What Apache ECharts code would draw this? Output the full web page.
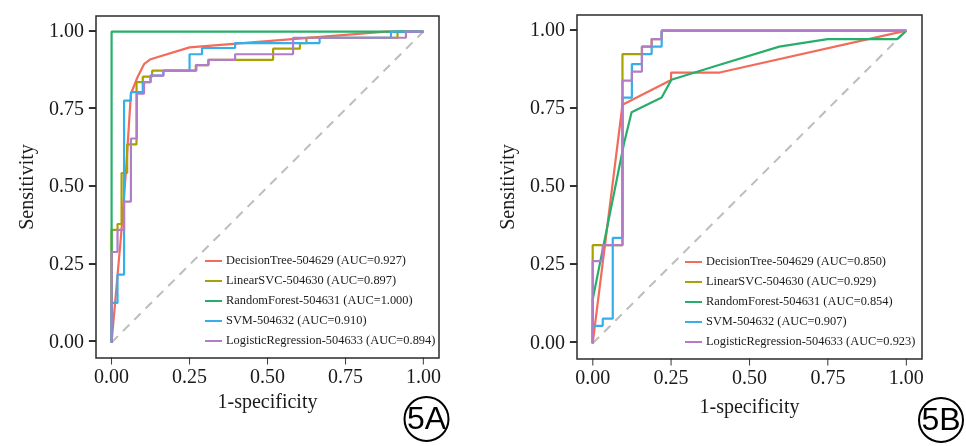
<!DOCTYPE html>
<html>
<head>
<meta charset="utf-8">
<script src="https://cdn.jsdelivr.net/npm/echarts@6/dist/echarts.min.js"></script>
<style>
  html, body { margin: 0; padding: 0; background: #fff; }
  #chart { width: 966px; height: 446px; }
</style>
</head>
<body>
<div id="chart"></div>
<script>
// tick labels shared by both panels
const ticks = [0, 0.25, 0.5, 0.75, 1];

// 5A
const namesA = [
  'DecisionTree-504629 (AUC=0.927)',
  'LinearSVC-504630 (AUC=0.897)',
  'RandomForest-504631 (AUC=1.000)',
  'SVM-504632 (AUC=0.910)',
  'LogisticRegression-504633 (AUC=0.894)'
];
const treeA = [[0, 0], [0.03, 0.34], [0.046, 0.55], [0.062, 0.8], [0.083, 0.853], [0.104, 0.895],
  [0.125, 0.911], [0.25, 0.949], [0.57, 0.975], [0.88, 1], [1, 1]];
const svcA = [[0, 0], [0, 0.362], [0.019, 0.362], [0.019, 0.381], [0.032, 0.381], [0.032, 0.545],
  [0.05, 0.545], [0.05, 0.637], [0.08, 0.637], [0.08, 0.837], [0.1, 0.837], [0.1, 0.855],
  [0.13, 0.855], [0.13, 0.874], [0.27, 0.874], [0.27, 0.892], [0.31, 0.892], [0.31, 0.909],
  [0.518, 0.909], [0.518, 0.945], [0.604, 0.945], [0.604, 0.963], [0.625, 0.963], [0.625, 0.98],
  [0.917, 0.98], [0.917, 1], [1, 1]];
const forestA = [[0, 0], [0, 1], [1, 1]];
const svmA = [[0, 0], [0, 0.127], [0.019, 0.127], [0.019, 0.218], [0.04, 0.218], [0.04, 0.778],
  [0.062, 0.778], [0.062, 0.805], [0.1, 0.805], [0.1, 0.837], [0.125, 0.837], [0.125, 0.858],
  [0.166, 0.858], [0.166, 0.874], [0.25, 0.874], [0.25, 0.927], [0.29, 0.927], [0.29, 0.947],
  [0.396, 0.947], [0.396, 0.963], [0.667, 0.963], [0.667, 0.98], [0.896, 0.98], [0.896, 1], [1, 1]];
const logitA = [[0, 0], [0, 0.291], [0.019, 0.291], [0.019, 0.362], [0.04, 0.362], [0.04, 0.453],
  [0.062, 0.453], [0.062, 0.656], [0.081, 0.656], [0.081, 0.8], [0.104, 0.8], [0.104, 0.837],
  [0.125, 0.837], [0.125, 0.858], [0.166, 0.858], [0.166, 0.874], [0.272, 0.874], [0.272, 0.892],
  [0.311, 0.892], [0.311, 0.909], [0.396, 0.909], [0.396, 0.927], [0.582, 0.927], [0.582, 0.98],
  [0.944, 0.98], [0.944, 1], [1, 1]];

// 5B
const namesB = [
  'DecisionTree-504629 (AUC=0.850)',
  'LinearSVC-504630 (AUC=0.929)',
  'RandomForest-504631 (AUC=0.854)',
  'SVM-504632 (AUC=0.907)',
  'LogisticRegression-504633 (AUC=0.923)'
];
const treeB = [[0, 0], [0.095, 0.763], [0.25, 0.842], [0.25, 0.866], [0.405, 0.866], [1, 1]];
const svcB = [[0, 0], [0, 0.314], [0.032, 0.314], [0.095, 0.314], [0.095, 0.925], [0.157, 0.925],
  [0.157, 0.949], [0.188, 0.949], [0.188, 0.973], [0.22, 0.973], [0.22, 1], [1, 1]];
const forestB = [[0, 0], [0, 0.14], [0.1, 0.64], [0.124, 0.739], [0.22, 0.786], [0.251, 0.843],
  [0.405, 0.891], [0.595, 0.949], [0.749, 0.973], [0.971, 0.973], [1, 1]];
const svmB = [[0, 0], [0, 0.056], [0.032, 0.056], [0.032, 0.079], [0.064, 0.079], [0.064, 0.337],
  [0.095, 0.337], [0.095, 0.786], [0.125, 0.786], [0.125, 0.893], [0.157, 0.893], [0.157, 0.925],
  [0.188, 0.925], [0.188, 0.949], [0.22, 0.949], [0.22, 1], [1, 1]];
const logitB = [[0, 0], [0, 0.263], [0.032, 0.263], [0.032, 0.314], [0.095, 0.314], [0.095, 0.84],
  [0.125, 0.84], [0.125, 0.869], [0.157, 0.869], [0.157, 0.949], [0.188, 0.949], [0.188, 0.973],
  [0.22, 0.973], [0.22, 1], [1, 1]];

const diagonal = [[0, 0], [1, 1]];
const colors = ['#F26B5B', '#A8A200', '#27AE6A', '#35AEEB', '#B47CC7'];

const serif = 'Liberation Serif, Times New Roman, serif';
const mono = 'DejaVu Sans Mono, monospace';
const axisMin = -0.05;
const myChart = echarts.init(document.getElementById('chart'));

// the outward tick marks ride on the labels as box-drawing glyphs
function xAxis(idx) {
  return {
    type: 'value',
    gridIndex: idx,
    min: axisMin,
    max: 1.05,
    name: '1-specificity',
    nameLocation: 'middle',
    nameGap: idx === 0 ? 32 : 39,
    nameTextStyle: { fontFamily: serif, fontSize: 20, color: '#1a1a1a' },
    axisLine: { show: false, onZero: false },
    axisTick: { show: false },
    axisLabel: {
      customValues: ticks, margin: 0,
      formatter: v => '{t|\u2503}\n{v|' + v.toFixed(2) + '}',
      rich: {
        t: { fontFamily: mono, fontSize: 6, lineHeight: 7, color: '#2b2b2b', align: 'center' },
        v: { fontFamily: serif, fontSize: 20, lineHeight: 26, color: '#1a1a1a', align: 'center' }
      }
    },
    splitLine: { show: false }
  };
}
function yAxis(idx) {
  return {
    type: 'value',
    gridIndex: idx,
    min: axisMin,
    max: 1.05,
    name: 'Sensitivity',
    nameLocation: 'middle',
    nameGap: 58,
    nameRotate: 90,
    nameTextStyle: { fontFamily: serif, fontSize: 20, color: '#1a1a1a' },
    axisLine: { show: false, onZero: false },
    axisTick: { show: false },
    axisLabel: {
      customValues: ticks, margin: 0,
      formatter: v => '{v|' + v.toFixed(2) + '}{g| }{t|\u2501}',
      rich: {
        v: { fontFamily: serif, fontSize: 20, lineHeight: 20, color: '#1a1a1a' },
        g: { fontFamily: serif, fontSize: 20, width: 5 },
        t: { fontFamily: mono, fontSize: 11.6, color: '#2b2b2b' }
      }
    },
    splitLine: { show: false }
  };
}

function curves(names, data, idx) {
  return names.map((n, i) => ({
    type: 'line',
    name: n,
    xAxisIndex: idx,
    yAxisIndex: idx,
    data: data[i],
    showSymbol: false,
    symbol: 'none',
    silent: true,
    lineStyle: { color: colors[i], width: 2.2 },
    itemStyle: { color: colors[i] },
    z: 3 + i
  }));
}
function diag(idx) {
  return {
    type: 'line',
    name: 'diag' + idx,
    xAxisIndex: idx,
    yAxisIndex: idx,
    data: diagonal,
    symbol: 'none',
    silent: true,
    lineStyle: { color: '#BDBDBD', width: 2, type: [9, 7] },
    z: 2
  };
}
function legend(names, left, top) {
  return {
    data: names,
    orient: 'vertical',
    left: left,
    top: top,
    icon: 'rect',
    itemWidth: 17,
    itemHeight: 2,
    itemGap: 8,
    padding: 0,
    selectedMode: false,
    textStyle: { fontFamily: serif, fontSize: 12.4, color: '#1a1a1a', padding: [0, 0, 0, -1] }
  };
}
function badge(cx, cy, label) {
  return [
    { type: 'circle', shape: { cx: cx, cy: cy, r: 22 }, style: { fill: 'none', stroke: '#000', lineWidth: 2 } },
    {
      type: 'text', x: cx, y: cy + 1,
      style: { text: label, fontFamily: 'Liberation Sans, Arial, sans-serif', fontSize: 32,
        fill: '#000', align: 'center', verticalAlign: 'middle' }
    }
  ];
}

const option = {
  animation: false,
  backgroundColor: '#fff',
  grid: [
    { left: 96, top: 16, width: 343, height: 342, show: true, borderColor: '#2b2b2b', borderWidth: 1.5 },
    { left: 577, top: 15, width: 345, height: 344, show: true, borderColor: '#2b2b2b', borderWidth: 1.5 }
  ],
  xAxis: [xAxis(0), xAxis(1)],
  yAxis: [yAxis(0), yAxis(1)],
  legend: [legend(namesA, 205, 255), legend(namesB, 685, 256)],
  series: [diag(0), diag(1)]
    .concat(curves(namesA, [treeA, svcA, forestA, svmA, logitA], 0))
    .concat(curves(namesB, [treeB, svcB, forestB, svmB, logitB], 1)),
  graphic: badge(426.5, 419, '5A').concat(badge(941, 420, '5B'))
};

myChart.setOption(option, true);
</script>
</body>
</html>
